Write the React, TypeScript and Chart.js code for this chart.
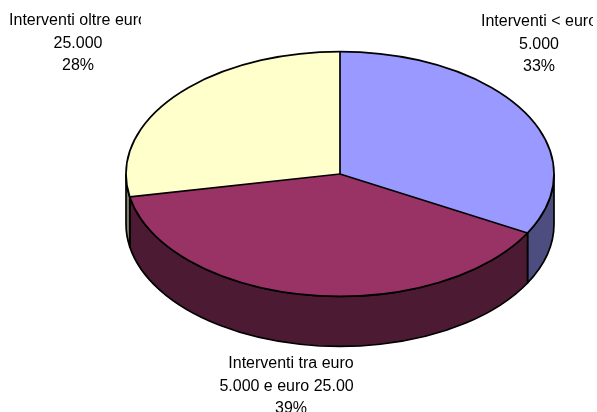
import { useEffect, useRef } from "react";
import { Chart, registerables } from "chart.js";

Chart.register(...registerables);

const categories = [
  "Interventi < euro 5.000",
  "Interventi tra euro 5.000 e euro 25.000",
  "Interventi oltre euro 25.000",
];
const labelLines = [
  ["Interventi < euro", "5.000"],
  ["Interventi tra euro", "5.000 e euro 25.000"],
  ["Interventi oltre euro", "25.000"],
];
const shares = [33, 39, 28];
const topColors = ["#9999FF", "#993366", "#FFFFCC"];
const sideColors = ["#4D4D80", "#4D1A33", "#80806A"];

// label layout (centre x, first line y, horizontal clip box)
const labelBoxes = [
  { x: 539, y: 22, left: 478, right: 593 },
  { x: 291, y: 364, left: 215, right: 353 },
  { x: 78, y: 21, left: 4, right: 141 },
];
const TILT = 0.572;
const DEPTH = 50;
const LINE_H = 22.5;
const FONT = "16px 'Liberation Sans', Arial, sans-serif";

function geom(chart: any) {
  const meta = chart.getDatasetMeta(0);
  const arcs = meta.data as any[];
  const p = arcs[0].getProps(["x", "y", "outerRadius"], true);
  const rx = chart.chartArea.width / 2;
  const k = rx / p.outerRadius;
  return { arcs, cx: p.x, cy: p.y, r: p.outerRadius, rx, ry: rx * TILT, k };
}

const pie3d = {
  id: "pie3d",
  beforeDatasetsDraw(chart: any) {
    const ctx = chart.ctx as CanvasRenderingContext2D;
    const { arcs, cx, cy, rx, ry, k } = geom(chart);
    // side walls
    arcs.forEach((arc: any, i: number) => {
      const { startAngle, endAngle } = arc.getProps(["startAngle", "endAngle"], true);
      const ranges = [
        [0, Math.PI],
        [2 * Math.PI, 3 * Math.PI],
        [-2 * Math.PI, -Math.PI],
      ];
      ranges.forEach(([lo, hi]) => {
        const a = Math.max(startAngle, lo);
        const b = Math.min(endAngle, hi);
        if (b <= a) return;
        ctx.save();
        ctx.beginPath();
        ctx.ellipse(cx, cy, rx, ry, 0, a, b, false);
        ctx.lineTo(cx + rx * Math.cos(b), cy + DEPTH + ry * Math.sin(b));
        ctx.ellipse(cx, cy + DEPTH, rx, ry, 0, b, a, true);
        ctx.closePath();
        ctx.fillStyle = sideColors[i];
        ctx.fill();
        ctx.lineWidth = 1.7;
        ctx.strokeStyle = "#000";
        ctx.lineJoin = "round";
        ctx.stroke();
        ctx.restore();
      });
    });
    // squash the top surface into an ellipse
    ctx.save();
    ctx.translate(cx, cy);
    ctx.scale(k, k * TILT);
    ctx.translate(-cx, -cy);
  },
  afterDatasetsDraw(chart: any) {
    const ctx = chart.ctx as CanvasRenderingContext2D;
    ctx.restore();
    const { arcs, cx, cy, rx, ry } = geom(chart);
    ctx.save();
    ctx.strokeStyle = "#000";
    ctx.lineWidth = 1.7;
    ctx.lineJoin = "round";
    ctx.beginPath();
    ctx.ellipse(cx, cy, rx, ry, 0, 0, Math.PI * 2);
    ctx.stroke();
    arcs.forEach((arc: any) => {
      const { startAngle } = arc.getProps(["startAngle"], true);
      ctx.beginPath();
      ctx.moveTo(cx, cy);
      ctx.lineTo(cx + rx * Math.cos(startAngle), cy + ry * Math.sin(startAngle));
      ctx.stroke();
    });
    ctx.restore();
  },
  afterDraw(chart: any) {
    const ctx = chart.ctx as CanvasRenderingContext2D;
    const data = chart.data.datasets[0].data as number[];
    const total = data.reduce((s, v) => s + v, 0);
    ctx.save();
    ctx.font = FONT;
    ctx.fillStyle = "#000";
    ctx.textAlign = "center";
    ctx.textBaseline = "middle";
    labelBoxes.forEach((box, i) => {
      ctx.save();
      ctx.beginPath();
      ctx.rect(box.left, 0, box.right - box.left, chart.height);
      ctx.clip();
      const lines = [...labelLines[i], Math.round((data[i] / total) * 100) + "%"];
      lines.forEach((t, j) => ctx.fillText(t, box.x, box.y + j * LINE_H));
      ctx.restore();
    });
    ctx.restore();
  },
};

export default function App() {
  const ref = useRef<HTMLCanvasElement>(null);
  useEffect(() => {
    document.body.style.margin = "0";
    if (!ref.current) return;
    const chart = new Chart(ref.current, {
      type: "pie",
      data: {
        labels: categories,
        datasets: [
          {
            data: shares,
            backgroundColor: topColors,
            borderWidth: 0,
            clip: false as any,
          },
        ],
      },
      options: {
        responsive: false,
        animation: false,
        events: [],
        layout: { padding: { left: 126, right: 43, top: 0, bottom: 64 } },
        plugins: { legend: { display: false }, tooltip: { enabled: false } },
      },
      plugins: [pie3d],
    });
    return () => chart.destroy();
  }, []);
  return (
    <div style={{ width: 597, height: 412, background: "#fff" }}>
      <canvas ref={ref} width={597} height={412} />
    </div>
  );
}
